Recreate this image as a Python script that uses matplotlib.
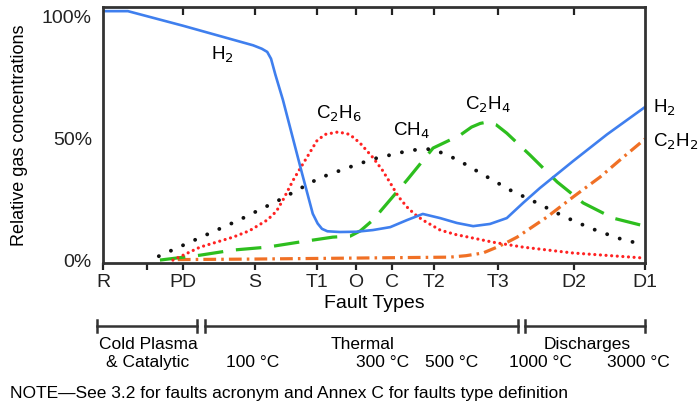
import matplotlib
matplotlib.use("Agg")
import matplotlib.pyplot as plt
from matplotlib.lines import Line2D

plt.rcParams['font.family'] = ['Liberation Sans', 'DejaVu Sans']

# ---- data ----
fault_labels = ["R", "PD", "S", "T1", "O", "C", "T2", "T3", "D2", "D1"]
fault_pos = [0, 14.8, 28.0, 39.5, 46.7, 53.3, 61.1, 72.9, 86.9, 100]

h2_x = [0, 4.6, 14.8, 27.7, 29.3, 30.3, 31.0, 31.8, 33.2, 36.7, 38.7, 39.6, 40.4, 41.4, 43.7,
        46.7, 49.8, 53.0, 56.1, 59.0, 62.2, 65.3, 68.3, 71.4, 74.5, 77.5, 80.6, 86.7, 93.0, 100]
h2_y = [102, 102, 96, 88, 86.6, 85.3, 82.5, 76, 65.6, 35.7, 19, 15, 12.8, 11.8, 11.5,
        11.6, 12.3, 13.5, 16.4, 18.9, 17.2, 15.2, 13.9, 14.8, 17.2, 23.4, 29.5, 40.5, 51.5, 62.7]

c2h6_x = [12.9, 17.9, 24.0, 27.0, 30.3, 32.0, 33.2, 35.1, 36.5, 37.6, 39.5, 41.0, 43.4, 45.5,
          47.4, 49.8, 51.5, 53.0, 54.5, 56.1, 57.5, 59.0, 62.2, 65.0, 68.3, 72.0, 77.5, 86.7, 100]
c2h6_y = [0, 5.3, 9.4, 12, 16.4, 20, 24.6, 32.8, 38, 42, 49, 51.5, 52.5, 51.5,
          48, 42, 37, 31.6, 26, 21.7, 18.8, 16.4, 12.3, 10.5, 9, 7.3, 5.3, 2.9, 0.8]

ch4_x = [10.3, 17.7, 25.1, 32.5, 39.9, 45.0, 49.8, 55.4, 58.0, 60.7, 63.0, 65.5, 70.3, 75.1,
         80.1, 84.9, 89.9, 95.0, 100]
ch4_y = [1.6, 9, 16.4, 24.6, 33.6, 37.7, 41.4, 44.3, 45.3, 45.5, 43.5, 41, 34.8, 28.7,
         23.4, 18, 13.1, 9, 6.1]

c2h4_x = [10.5, 17.9, 24.0, 30.3, 36.3, 42.4, 45.6, 47.5, 49.8, 56.1, 60.9, 65.9, 68.0,
          69.6, 71.0, 72.5, 74.5, 78.8, 83.8, 88.6, 94.1, 100]
c2h4_y = [0, 2, 4.1, 5.3, 7.4, 9.4, 9.8, 12, 16.4, 32.8, 45.9, 51.2, 54.5,
          56, 56.6, 55.5, 52, 43, 32, 23.4, 17.2, 13.9]

c2h2_x = [13.8, 27.1, 45.6, 64.0, 67.0, 70.1, 72.7, 74.5, 76.4, 81.9, 86.7, 91.7, 95.9, 100]
c2h2_y = [0.2, 0.4, 0.8, 1.2, 1.8, 2.9, 5.3, 7.2, 9.4, 17.6, 25.8, 34, 42, 49.6]

y_ticks = [0, 50, 100]
y_ticklabels = ["0%", "50%", "100%"]

# ---- figure ----
fig = plt.figure(figsize=(6.98, 4.11), dpi=100)
W, H = 698, 411
ax = fig.add_axes([103 / W, 1 - 263 / H, (645 - 103) / W, (263 - 7) / H])

ax.plot(c2h2_x, c2h2_y, color="#F07025", lw=2.3, linestyle=(0, (4, 1.6, 0.8, 1.6)), dash_capstyle="butt")
ax.plot(c2h4_x, c2h4_y, color="#2DBE1E", lw=2.3, linestyle=(0, (8, 4)))
ax.plot(ch4_x, ch4_y, color="#111111", lw=2.8, linestyle=(0, (0.01, 3.4)), dash_capstyle="round")
ax.plot(c2h6_x, c2h6_y, color="#FF2222", lw=2.3, linestyle=(0, (0.01, 1.75)), dash_capstyle="round")
ax.plot(h2_x, h2_y, color="#3F7FEE", lw=1.9)

ax.set_xlim(0, 100)
ax.set_ylim(-1.2, 103.7)
ax.set_yticks(y_ticks)
ax.set_yticklabels(y_ticklabels, fontsize=14)
ax.tick_params(axis="y", length=0, pad=8, colors="#222222")
ax.set_xticks(fault_pos)
ax.set_xticklabels(fault_labels, fontsize=14)
ax.set_xticks([8.1], minor=True)
ax.tick_params(axis="x", which="both", direction="out", length=5, width=1.6, colors="#222222", pad=3)

# inward tick marks on the top frame, at the same fault positions
ax.vlines(fault_pos[1:-1], 0.968, 1.0, transform=ax.get_xaxis_transform(),
          colors="#222222", lw=1.6, clip_on=False)

for s in ax.spines.values():
    s.set_linewidth(2.0)
    s.set_color("#333333")

ax.set_ylabel("Relative gas concentrations", fontsize=13, labelpad=10)
ax.set_xlabel("Fault Types", fontsize=14, labelpad=3)

# curve labels
lab_fs = 13.5
ax.text(22.0, 84, "H$_2$", fontsize=lab_fs, ha="center", va="center")
ax.text(43.5, 59.8, "C$_2$H$_6$", fontsize=lab_fs, ha="center", va="center")
ax.text(57.0, 52.9, "CH$_4$", fontsize=lab_fs, ha="center", va="center")
ax.text(71.0, 63.5, "C$_2$H$_4$", fontsize=lab_fs, ha="center", va="center")
ax.text(101.5, 62.3, "H$_2$", fontsize=lab_fs, ha="left", va="center", clip_on=False)
ax.text(101.5, 48.4, "C$_2$H$_2$", fontsize=lab_fs, ha="left", va="center", clip_on=False)

# bracket lines
def fx(px):
    return px / W

def fy(py):
    return 1 - py / H

by = 326
for x0, x1 in [(97, 197), (205, 518), (525, 645)]:
    fig.add_artist(Line2D([fx(x0), fx(x1)], [fy(by), fy(by)], color="#333333", lw=1.8))
    for xe in (x0, x1):
        fig.add_artist(Line2D([fx(xe), fx(xe)], [fy(by - 6), fy(by + 6)], color="#333333", lw=1.8))

tfs = 12.5
fig.text(fx(148), fy(344), "Cold Plasma", ha="center", va="center", fontsize=tfs)
fig.text(fx(148), fy(362), "& Catalytic", ha="center", va="center", fontsize=tfs)
fig.text(fx(363), fy(344), "Thermal", ha="center", va="center", fontsize=tfs)
fig.text(fx(587), fy(344), "Discharges", ha="center", va="center", fontsize=tfs)
for lbl, px in [("100 °C", 253), ("300 °C", 383), ("500 °C", 452), ("1000 °C", 540), ("3000 °C", 638)]:
    fig.text(fx(px), fy(362), lbl, ha="center", va="center", fontsize=tfs)
fig.text(fx(10), fy(393), "NOTE\u2014See 3.2 for faults acronym and Annex C for faults type definition",
         ha="left", va="center", fontsize=12.5)

fig.savefig("out.png", dpi=100)
